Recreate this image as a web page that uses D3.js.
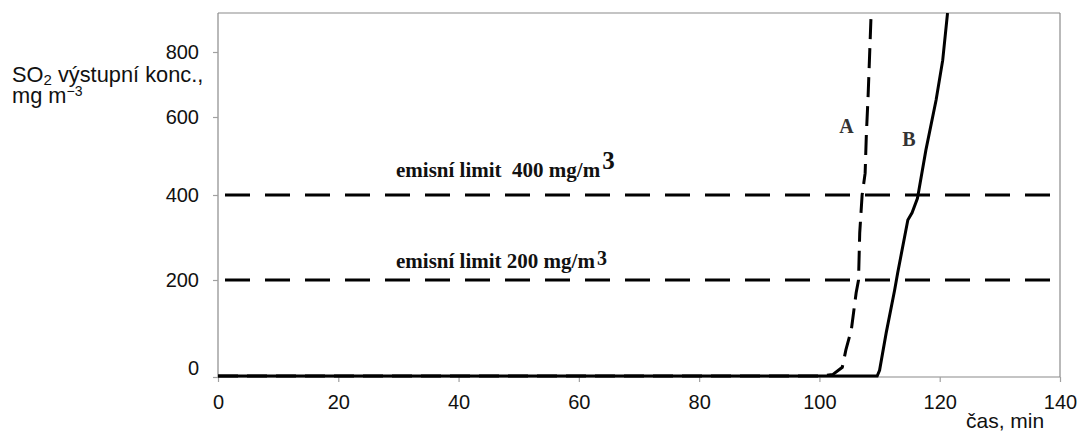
<!DOCTYPE html>
<html><head><meta charset="utf-8">
<script src="https://cdn.jsdelivr.net/npm/d3@7"></script>
<style>
html,body{margin:0;padding:0;background:#fff;}
text{font-family:"Liberation Sans",Arial,sans-serif;}
</style></head>
<body>
<svg id="c" width="1081" height="435"></svg>
<script>
// ---- data ----
const xTicks = [0, 20, 40, 60, 80, 100, 120, 140];
const yTicks = [0, 200, 400, 600, 800];
const limits = [400, 200];
const limitLabels = ["emisní limit  400 mg/m", "emisní limit 200 mg/m"];
const curveA_x = [0, 30, 60, 90, 100, 102.2, 103.8, 104.4, 105.3, 106.1, 106.5, 106.7, 107.1, 107.6, 107.8, 108.1, 108.6];
const curveA_y = [2, 2, 2, 2, 2, 5, 20, 56, 97, 173, 200, 311, 400, 456, 554, 668, 920];
const curveB_x = [0, 30, 60, 90, 109.6, 110.0, 111.1, 112.5, 113.0, 114.7, 115.4, 116.3, 117.7, 119.4, 120.5, 121.3];
const curveB_y = [2, 2, 2, 2, 2, 14, 91, 179, 216, 341, 358, 392, 515, 652, 775, 920];
const yMax = 920;

// ---- scales ----
const svg = d3.select("#c");
const x = d3.scaleLinear().domain([0, 140]).range([218, 1060]);
// the original's vertical axis is not evenly spaced; piecewise linear scale
const y = d3.scaleLinear().domain([0, 200, 400, 600, 800]).range([377, 280, 195, 117, 52]);
const yTop = y(yMax);

svg.append("clipPath").attr("id", "clip").append("rect")
  .attr("x", x(0)).attr("y", yTop).attr("width", x(140) - x(0)).attr("height", y(0) - yTop + 1);

// frame top/right
svg.append("line").attr("x1", x(0)).attr("x2", x(140)).attr("y1", yTop).attr("y2", yTop)
  .attr("stroke", "#8a8a8a").attr("stroke-width", 1.2);
svg.append("line").attr("x1", x(140)).attr("x2", x(140)).attr("y1", yTop).attr("y2", y(0))
  .attr("stroke", "#8a8a8a").attr("stroke-width", 1.2);

// axes
const gx = svg.append("g").attr("transform", `translate(0,${y(0)})`)
  .call(d3.axisBottom(x).tickValues(xTicks).tickSize(5).tickPadding(13).tickSizeOuter(0));
const gy = svg.append("g").attr("transform", `translate(${x(0)},0)`)
  .call(d3.axisLeft(y).tickValues(yTicks).tickSize(5).tickPadding(14).tickSizeOuter(0));
[gx, gy].forEach(g => {
  g.select(".domain").attr("stroke", "#8a8a8a").attr("stroke-width", 1.2);
  g.selectAll(".tick line").attr("stroke", "#a0a0a0").attr("stroke-width", 1.2);
  g.selectAll(".tick text").attr("fill", "#111").style("font-size", "20px")
   .style("font-family", "'Liberation Sans',Arial,sans-serif");
});
gy.select(".domain").attr("d", `M0,${y(0)}V${yTop}`);
gx.select(".domain").attr("d", `M${x(0)},0H${x(140)}`);
gy.selectAll(".tick text").filter(d => d === 0).attr("dy", "-0.12em");

// limit lines
svg.append("g").selectAll("line").data(limits).join("line")
  .attr("x1", x(0)).attr("x2", x(140))
  .attr("y1", d => y(d)).attr("y2", d => y(d))
  .attr("stroke", "#000").attr("stroke-width", 3)
  .attr("stroke-dasharray", "25,15").attr("stroke-dashoffset", 33);

// limit labels
const lbl = svg.append("g").selectAll("text").data(limits).join("text")
  .attr("x", 396)
  .attr("y", d => y(d) - (d === 400 ? 18 : 12))
  .style("font-family", "'Liberation Serif','Times New Roman',serif")
  .style("font-weight", "bold").style("font-size", "21px").attr("fill", "#111");
lbl.append("tspan").text((d, i) => limitLabels[i]).style("white-space", "pre").attr("xml:space", "preserve");
lbl.append("tspan").text("3")
  .attr("dx", 2)
  .attr("dy", d => d === 400 ? -8 : -3)
  .style("font-size", d => d === 400 ? "25px" : "20px");

// curves
const line = d3.line().x(d => x(d[0])).y(d => y(d[1]));
const dataA = curveA_x.map((v, i) => [v, curveA_y[i]]);
const dataB = curveB_x.map((v, i) => [v, curveB_y[i]]);
const cg = svg.append("g").attr("clip-path", "url(#clip)");
cg.append("path").datum(dataB).attr("d", line).attr("fill", "none")
  .attr("stroke", "#000").attr("stroke-width", 3);
cg.append("path").datum(dataA).attr("d", line).attr("fill", "none")
  .attr("stroke", "#000").attr("stroke-width", 3).attr("stroke-dasharray", "20,9");

// curve labels
svg.append("text").attr("x", x(104.5)).attr("y", 133).attr("text-anchor", "middle")
  .style("font-family", "'Liberation Serif','Times New Roman',serif")
  .style("font-weight", "bold").style("font-size", "20px").attr("fill", "#333").text("A");
svg.append("text").attr("x", x(114.9)).attr("y", 146).attr("text-anchor", "middle")
  .style("font-family", "'Liberation Serif','Times New Roman',serif")
  .style("font-weight", "bold").style("font-size", "20px").attr("fill", "#333").text("B");

// y-axis title (two lines in one text element)
const t1 = svg.append("text").attr("x", 12).attr("y", 82).style("font-size", "21.8px").attr("fill", "#111");
t1.append("tspan").text("SO");
t1.append("tspan").text("2").style("font-size", "15px").attr("dy", 2.5);
t1.append("tspan").text(" výstupní konc.,").attr("dy", -2.5);
t1.append("tspan").attr("x", 12).attr("dy", 21).text("mg m");
t1.append("tspan").text("−3").style("font-size", "14px").attr("dy", -7);

svg.append("text").attr("x", 966).attr("y", 428).style("font-size", "21px").attr("fill", "#111").text("čas, min");
</script>
</body></html>
